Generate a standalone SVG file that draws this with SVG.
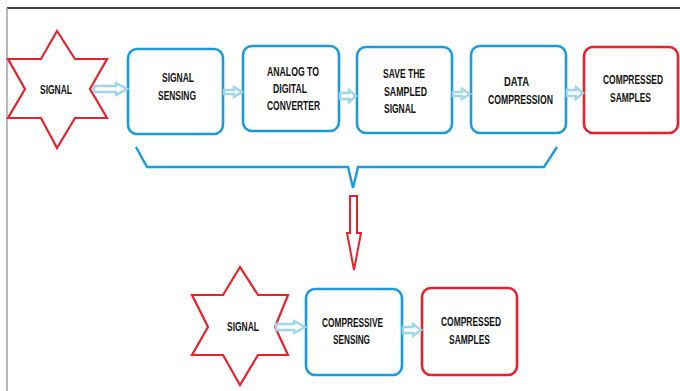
<svg xmlns="http://www.w3.org/2000/svg" width="680" height="391" viewBox="0 0 680 391">
<style>
.bg{fill:#fff}
.star{fill:#fff;stroke:#E8212B;stroke-width:2.2;stroke-linejoin:miter}
.bbox{fill:#fff;stroke:#1A9BE0;stroke-width:2.6}
.rbox{fill:#fff;stroke:#E8212B;stroke-width:2.6}
.arr{fill:#fff;stroke:#9FD6EC;stroke-width:2.5;stroke-linejoin:miter}
.rarr{fill:#fff;stroke:#E8212B;stroke-width:2}
.brace{fill:none;stroke:#1A9BE0;stroke-width:2.4}
text{font-family:"Liberation Sans",Arial,sans-serif;font-weight:bold;font-size:12px;fill:#111}
</style>
<rect class="bg" x="0" y="0" width="680" height="391"/>
<line x1="7" y1="8" x2="680" y2="8" stroke="#000" stroke-width="1.5"/>
<line x1="7" y1="8" x2="7" y2="391" stroke="#a0a0a0" stroke-width="1.5"/>

<g id="signal1">
<path class="star" d="M57,31 L75,59 L107,59 L90,89 L107,118 L75,118 L57,148 L41,118 L8,118 L25,89 L8,59 L41,59 Z"/>
<text x="40" y="94" textLength="32" lengthAdjust="spacingAndGlyphs">SIGNAL</text>
</g>
<g id="sensing">
<rect class="bbox" x="128" y="49" width="95" height="85" rx="9"/>
<text x="162" y="82" textLength="32" lengthAdjust="spacingAndGlyphs">SIGNAL</text>
<text x="158" y="100" textLength="38" lengthAdjust="spacingAndGlyphs">SENSING</text>
</g>
<g id="adc">
<rect class="bbox" x="243" y="46" width="96" height="85" rx="9"/>
<text x="267" y="76" textLength="52" lengthAdjust="spacingAndGlyphs">ANALOG TO</text>
<text x="273" y="93" textLength="34" lengthAdjust="spacingAndGlyphs">DIGITAL</text>
<text x="267" y="110" textLength="53" lengthAdjust="spacingAndGlyphs">CONVERTER</text>
</g>
<g id="save">
<rect class="bbox" x="357" y="47" width="95" height="86" rx="9"/>
<text x="383" y="78" textLength="42" lengthAdjust="spacingAndGlyphs">SAVE THE</text>
<text x="384" y="96" textLength="43" lengthAdjust="spacingAndGlyphs">SAMPLED</text>
<text x="384" y="113" textLength="32" lengthAdjust="spacingAndGlyphs">SIGNAL</text>
</g>
<g id="datacomp">
<rect class="bbox" x="471" y="46" width="95" height="87" rx="9"/>
<text x="504" y="86" textLength="25" lengthAdjust="spacingAndGlyphs">DATA</text>
<text x="488" y="104" textLength="65" lengthAdjust="spacingAndGlyphs">COMPRESSION</text>
</g>
<g id="compressed1">
<rect class="rbox" x="584" y="47" width="94" height="86" rx="9"/>
<text x="603" y="84" textLength="60" lengthAdjust="spacingAndGlyphs">COMPRESSED</text>
<text x="610" y="102" textLength="41" lengthAdjust="spacingAndGlyphs">SAMPLES</text>
</g>

<g id="signal2">
<path class="star" d="M240,267 L258,295 L288,295 L275,327 L288,355 L258,355 L240,385 L223,355 L192,355 L208,327 L192,295 L223,295 Z"/>
<text x="227" y="331" textLength="32" lengthAdjust="spacingAndGlyphs">SIGNAL</text>
</g>
<g id="cs">
<rect class="bbox" x="306" y="289" width="96" height="86" rx="9"/>
<text x="322" y="327" textLength="61" lengthAdjust="spacingAndGlyphs">COMPRESSIVE</text>
<text x="333" y="344" textLength="37" lengthAdjust="spacingAndGlyphs">SENSING</text>
</g>
<g id="compressed2">
<rect class="rbox" x="422" y="288" width="95" height="87" rx="9"/>
<text x="441" y="326" textLength="60" lengthAdjust="spacingAndGlyphs">COMPRESSED</text>
<text x="449" y="344" textLength="41" lengthAdjust="spacingAndGlyphs">SAMPLES</text>
</g>

<g id="connectors">
<path class="arr" d="M94,86 H116 V83 L127,89 L116,95 V92 H94 Z"/>
<path class="arr" d="M224,90 H234 V87 L242,92 L234,97 V94 H224 Z"/>
<path class="arr" d="M340,93 H349 V90 L356,96 L349,102 V99 H340 Z"/>
<path class="arr" d="M453,92 H462 V89 L470,94 L462,99 V96 H453 Z"/>
<path class="arr" d="M567,90 H576 V87 L583,93 L576,99 V96 H567 Z"/>
<path class="arr" d="M276,324 H294 V321 L305,327 L294,333 V330 H276 Z"/>
<path class="arr" d="M403,327 H413 V324 L421,330 L413,336 V333 H403 Z"/>
<path class="brace" d="M136,147 L147,167 H348 L353,188 L358,167 H544 L557,147"/>
<path class="rarr" d="M350,196 H357 V233 H361 L354,270 L347,233 H350 Z"/>
</g>
</svg>
